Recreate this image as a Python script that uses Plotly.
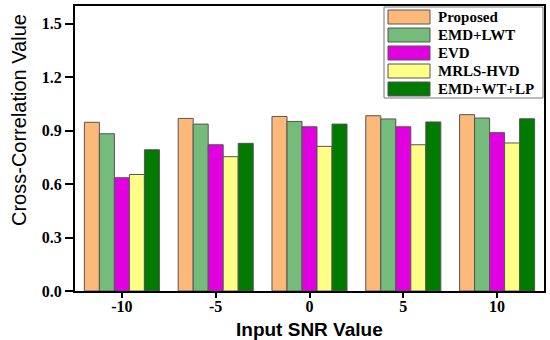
import plotly.graph_objects as go

categories = ["-10", "-5", "0", "5", "10"]
series_names = ["Proposed", "EMD+LWT", "EVD", "MRLS-HVD", "EMD+WT+LP"]
proposed = [0.947, 0.969, 0.980, 0.984, 0.990]
emd_lwt = [0.883, 0.937, 0.952, 0.966, 0.971]
evd = [0.636, 0.821, 0.922, 0.922, 0.889]
mrls_hvd = [0.654, 0.754, 0.812, 0.821, 0.831]
emd_wt_lp = [0.793, 0.829, 0.937, 0.949, 0.967]
y_ticks = [0.0, 0.3, 0.6, 0.9, 1.2, 1.5]

values = [proposed, emd_lwt, evd, mrls_hvd, emd_wt_lp]
colors = ["#FDB97A", "#75BB7B", "#E000E0", "#FFFF88", "#007A00"]

W, H = 550, 340
ML, MR, MT, MB = 75, 6, 6, 49
PW, PH = W - ML - MR, H - MT - MB


def px_x(px):
    return (px - ML) / PW


def px_y(py):
    return (H - MB - py) / PH


fig = go.Figure()
for name, vals, col in zip(series_names, values, colors):
    fig.add_trace(go.Bar(
        x=categories, y=vals, name=name, showlegend=False,
        marker=dict(color=col, line=dict(color="#555555", width=1)),
    ))

# custom legend (wide swatches like the reference)
shapes = [dict(type="rect", xref="paper", yref="paper",
               x0=px_x(384), x1=px_x(543), y0=px_y(98), y1=px_y(7),
               line=dict(color="#777777", width=1), fillcolor="white", layer="above")]
annotations = []
row0, row_step = 17, 18
for i, (name, col) in enumerate(zip(series_names, colors)):
    cy = row0 + i * row_step
    shapes.append(dict(type="rect", xref="paper", yref="paper",
                       x0=px_x(388), x1=px_x(430), y0=px_y(cy + 7), y1=px_y(cy - 7),
                       line=dict(color="#555555", width=1), fillcolor=col, layer="above"))
    annotations.append(dict(text="<b>%s</b>" % name, xref="paper", yref="paper",
                            x=px_x(436), y=px_y(cy), xanchor="left", yanchor="middle",
                            showarrow=False,
                            font=dict(family="Liberation Serif", size=15, color="black")))

annotations += [
    dict(text="Cross-Correlation Value", textangle=-90,
         xref="paper", yref="paper", x=px_x(19), y=px_y(120),
         xanchor="center", yanchor="middle", showarrow=False,
         font=dict(family="Liberation Sans", size=20, color="black")),
    dict(text="<b>Input SNR Value</b>",
         xref="paper", yref="paper", x=0.5, y=px_y(329),
         xanchor="center", yanchor="middle", showarrow=False,
         font=dict(family="Liberation Sans", size=19, color="black")),
]

tick_font = dict(family="Liberation Serif", size=16, color="black", weight="bold")

fig.update_layout(
    width=W, height=H,
    margin=dict(l=ML, r=MR, t=MT, b=MB),
    paper_bgcolor="white", plot_bgcolor="white",
    bargap=0.2, bargroupgap=0.0, barmode="group",
    showlegend=False,
    xaxis=dict(
        type="category", range=[-0.5, 4.5],
        showline=True, linecolor="black", linewidth=2, mirror=True,
        ticks="outside", ticklen=5, tickwidth=2, tickcolor="black",
        tickfont=tick_font, ticklabelstandoff=-5,
        showgrid=False, automargin=False,
    ),
    yaxis=dict(
        range=[0, 1.6], tickvals=y_ticks, tickformat=".1f",
        showline=True, linecolor="black", linewidth=2, mirror=True,
        ticks="outside", ticklen=8, tickwidth=2, tickcolor="black",
        tickfont=tick_font,
        showgrid=False, zeroline=False, automargin=False,
    ),
    shapes=shapes,
    annotations=annotations,
)

fig.write_html("out.html", config={"displayModeBar": False},
               post_script="document.body.style.margin='0';")
